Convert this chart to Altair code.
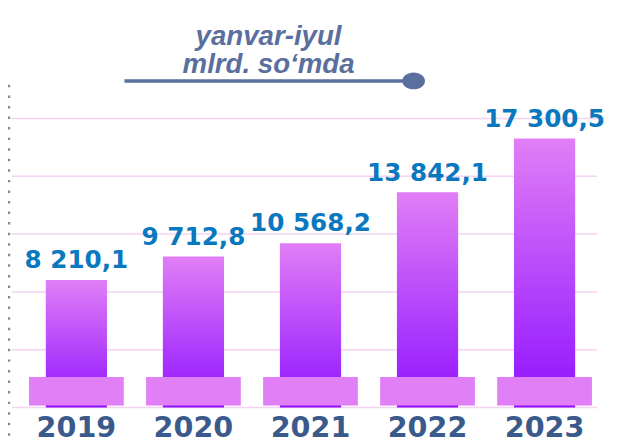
import altair as alt
import pandas as pd

years = ["2019", "2020", "2021", "2022", "2023"]
values = [8210.1, 9712.8, 10568.2, 13842.1, 17300.5]
value_labels = ["8 210,1", "9 712,8", "10 568,2", "13 842,1", "17 300,5"]
grid_values = [0, 3720, 7440, 11160, 14880, 18600]
title_lines = ["yanvar-iyul", "mlrd. so‘mda"]

df = pd.DataFrame({"year": years, "value": values, "label": value_labels})
grid_df = pd.DataFrame({"g": grid_values})
one = pd.DataFrame({"a": [0]})

y_scale = alt.Scale(domain=[0, 18600], nice=False)
x_enc = alt.X(
    "year:N",
    sort=years,
    scale=alt.Scale(paddingInner=0, paddingOuter=0),
    axis=alt.Axis(
        title=None, labelAngle=0, domain=False, ticks=False, tickSize=0,
        labelPadding=6, labelFontSize=29, labelFont="DejaVu Sans",
        labelFontWeight="bold", labelColor="#3a5a8c", grid=False,
    ),
)

grid = alt.Chart(grid_df).mark_rule(color="#f6d2f6", strokeWidth=1.5).encode(
    y=alt.Y("g:Q", scale=y_scale, axis=None),
    x=alt.value(-6), x2=alt.value(587),
)

dotted = alt.Chart(one).mark_rule(
    color="#8a8a8a", strokeWidth=2.5, strokeDash=[2.5, 8.2]
).encode(x=alt.value(-9), y=alt.value(-34), y2=alt.value(331))

bars = alt.Chart(df).mark_bar(
    width=62,
    color=alt.Gradient(
        gradient="linear",
        stops=[alt.GradientStop(color="#e17ef6", offset=0),
               alt.GradientStop(color="#8f12ff", offset=1)],
        x1=0, x2=0, y1=0, y2=1,
    ),
).encode(x=x_enc, y=alt.Y("value:Q", scale=y_scale, axis=None))

base = alt.Chart(df).mark_bar(width=96, color="#e07ff6").encode(
    x=x_enc, y=alt.value(262), y2=alt.value(291)
)

labels = alt.Chart(df).mark_text(
    font="DejaVu Sans", fontWeight="bold", fontSize=25, color="#0a78be",
    baseline="alphabetic", dy=-12,
).encode(x=x_enc, y=alt.Y("value:Q", scale=y_scale, axis=None), text="label:N")

title = alt.Chart(one).mark_text(
    text=title_lines, font="Liberation Sans", fontWeight="bold", fontStyle="italic",
    fontSize=28, lineHeight=28, color="#5b6f9e", baseline="alphabetic", align="center",
).encode(x=alt.value(254), y=alt.value(-74))

line = alt.Chart(one).mark_rule(color="#5b6f9e", strokeWidth=3.5).encode(
    x=alt.value(108), x2=alt.value(401), y=alt.value(-38)
)

dot = alt.Chart(one).mark_point(
    shape="M-1,0A1,0.74,0,1,0,1,0A1,0.74,0,1,0,-1,0Z",
    filled=True, opacity=1, color="#5b6f9e", size=529,
).encode(x=alt.value(401), y=alt.value(-38))

chart = alt.layer(grid, dotted, bars, base, labels, title, line, dot).properties(
    width=593, height=293,
    padding={"left": 10, "top": 109, "right": 7, "bottom": 30},
    autosize="none",
).configure_view(stroke=None)

chart.save("out.html", embed_options={"renderer": "svg", "actions": False})
